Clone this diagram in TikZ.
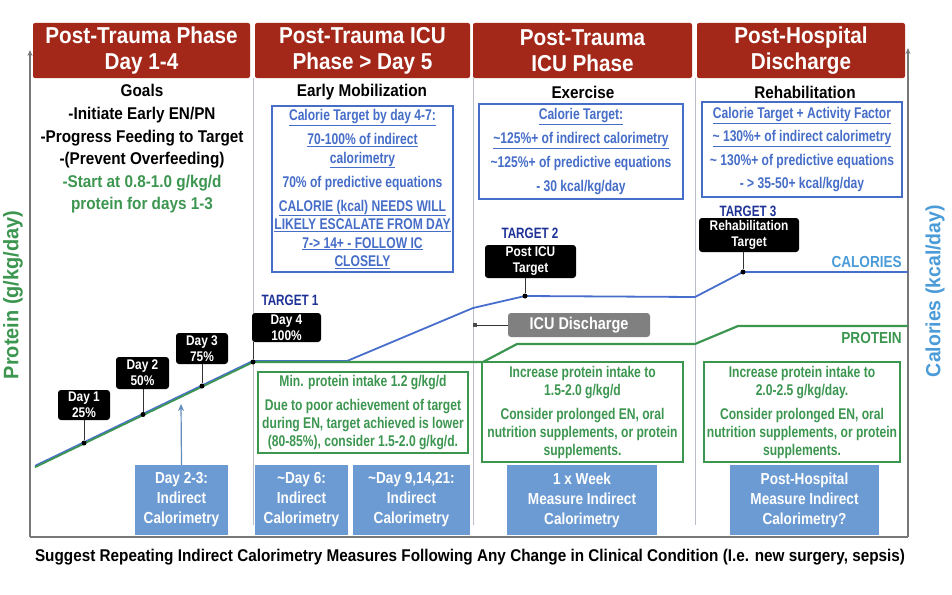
\documentclass[tikz,border=0pt]{standalone}
\usepackage{fontspec}
\setmainfont{Liberation Sans}
\newfontfamily\fh{Liberation Sans}[FakeStretch=0.85]
\newfontfamily\fhw{Liberation Sans}[FakeStretch=0.9]
\newfontfamily\fhx{Liberation Sans}[FakeStretch=0.95]
\newfontfamily\fn{Liberation Sans}[FakeStretch=0.78]
\usetikzlibrary{arrows.meta}
\definecolor{hdred}{RGB}{163,40,26}
\definecolor{txblue}{RGB}{70,110,200}
\definecolor{lnblue}{RGB}{72,110,205}
\definecolor{tgblue}{RGB}{30,50,150}
\definecolor{ltblue}{RGB}{74,155,215}
\definecolor{pgreen}{RGB}{60,150,80}
\definecolor{fillblue}{RGB}{107,155,210}
\definecolor{sepgray}{RGB}{185,190,200}
\definecolor{axgray}{RGB}{120,120,120}
\definecolor{icugray}{RGB}{128,128,128}
\begin{document}
\begin{tikzpicture}[x=1pt,y=-1pt,
  hdr/.style={fill=hdred, text=white, font=\fhw\bfseries\fontsize{23}{26}\selectfont, align=center, rounded corners=2pt, minimum height=55, inner sep=0},
  sub/.style={font=\fhw\bfseries\fontsize{17}{22.6}\selectfont, align=center, inner sep=0},
  bbox/.style={draw=txblue, fill=white, line width=1.2pt, text=txblue, font=\fn\bfseries\fontsize{15.5}{18.5}\selectfont, align=center, inner sep=0},
  gbox/.style={draw=pgreen, fill=white, line width=1.2pt, text=pgreen, font=\fn\bfseries\fontsize{15.5}{18}\selectfont, align=center, inner sep=0},
  mbox/.style={fill=fillblue, text=white, font=\fh\bfseries\fontsize{16}{20}\selectfont, align=center, inner sep=0, minimum height=70},
  tag/.style={fill=black, rounded corners=3pt, text=white, font=\fh\bfseries\fontsize{14}{16}\selectfont, align=center, inner sep=0},
  dot/.style={circle, fill=black, inner sep=0, minimum size=5},
  conn/.style={draw=black!80, line width=0.8pt},
  tgt/.style={text=tgblue, font=\fn\bfseries\fontsize{15}{16}\selectfont, inner sep=0},
  axis/.style={draw=axgray, line width=1.5pt},
  sep/.style={draw=sepgray, line width=1pt},
  cal/.style={draw=lnblue, line width=1.8pt},
  pro/.style={draw=pgreen, line width=2.2pt}]
\useasboundingbox (0,0) rectangle (952,594);

% separators
\coordinate (s1t) at (253,78); \coordinate (s1b) at (253,525);
\coordinate (s2t) at (473,78); \coordinate (s2b) at (473,525);
\coordinate (s3t) at (695,78); \coordinate (s3b) at (695,525);
\draw[sep] (s1t) -- (s1b);
\draw[sep] (s2t) -- (s2b);
\draw[sep] (s3t) -- (s3b);

% axes
\coordinate (ab1) at (30,537); \coordinate (at1) at (30,50);
\coordinate (ab2) at (908,537); \coordinate (at2) at (908,48);
\draw[axis] (ab1) -- (ab2);
\draw[axis,-{Stealth[length=6pt,width=5pt]}] (ab1) -- (at1);
\draw[axis,-{Stealth[length=6pt,width=5pt]}] (ab2) -- (at2);

% headers
\node[hdr, minimum width=217] (h1) at (141.5,50.5) {Post-Trauma Phase\\Day 1-4};
\node[hdr, minimum width=215] (h2) at (362.5,50.5) {Post-Trauma ICU\\Phase > Day 5};
\node[hdr, minimum width=219] (h3) at (582.5,50.5) {Post-Trauma\\ICU Phase};
\node[hdr, minimum width=208] (h4) at (801,50.5) {Post-Hospital\\Discharge};

% column sub-headings
\node[sub] (goals) at (142,149) {Goals\\-Initiate Early EN/PN\\-Progress Feeding to Target\\-(Prevent Overfeeding)\\\textcolor{pgreen}{-Start at 0.8-1.0 g/kg/d}\\\textcolor{pgreen}{protein for days 1-3}};
\node[sub] (sub2) at (362,92) {Early Mobilization};
\node[sub] (sub3) at (583,92) {Exercise};
\node[sub] (sub4) at (805,92) {Rehabilitation};

% calorie boxes
\node[bbox, minimum width=181, minimum height=166] (b2) at (362.5,189) {\underline{Calorie Target by day 4-7:}\\[5.5pt]\underline{70-100\% of indirect}\\\underline{calorimetry}\\[5.5pt]70\% of predictive equations\\[5.5pt]\underline{CALORIE (kcal) NEEDS WILL}\\\underline{LIKELY ESCALATE FROM DAY}\\\underline{7-> 14+ - FOLLOW IC}\\\underline{CLOSELY}};
\node[bbox, minimum width=204, minimum height=95] (b3) at (581,151.5) {\underline{Calorie Target:}\\[5.2pt]\underline{\textasciitilde125\%+ of indirect calorimetry}\\[5.2pt]\textasciitilde125\%+ of predictive equations\\[5.2pt]- 30 kcal/kg/day};
\node[bbox, minimum width=200, minimum height=95] (b4) at (802,149.5) {\underline{Calorie Target + Activity Factor}\\[4.8pt]\underline{\textasciitilde{} 130\%+ of indirect calorimetry}\\[4.8pt]\textasciitilde{} 130\%+ of predictive equations\\[4.8pt]- > 35-50+ kcal/kg/day};

% lines
\coordinate (c1) at (253,361); \coordinate (c2) at (347,361);
\coordinate (c3) at (473,308); \coordinate (c4) at (525,296); \coordinate (c5) at (695,297);
\coordinate (c6) at (743,272); \coordinate (c7) at (908,272);
\coordinate (p0) at (35,467); \coordinate (p1) at (253,362); \coordinate (p2) at (483,362);
\coordinate (p3) at (517,344); \coordinate (p4) at (695,344); \coordinate (p5) at (738,326);
\coordinate (p6) at (908,326);
\draw[cal] (c1) -- (c2) -- (c3) -- (c4) -- (c5) -- (c6) -- (c7);
\draw[pro] (p0) -- (p1) -- (p2) -- (p3) -- (p4) -- (p5) -- (p6);
\coordinate (c0b) at (35,465.5); \coordinate (c1b) at (253,360.5);
\draw[draw=lnblue, line width=1.1pt] (c0b) -- (c1b);

\node[anchor=east, text=ltblue, font=\fh\bfseries\fontsize{16}{18}\selectfont, inner sep=0] (lcal) at (902,262) {CALORIES};
\node[anchor=east, text=pgreen, font=\fh\bfseries\fontsize{16}{18}\selectfont, inner sep=0] (lpro) at (902,338) {PROTEIN};

% day tags
\node[dot] (d1) at (84,443) {};
\node[dot] (d2) at (143,414.5) {};
\node[dot] (d3) at (202,386) {};
\node[dot] (d4) at (253,362) {};
\node[dot] (dT2) at (525,296) {};
\node[dot] (dT3) at (743,272) {};
\node[tag, minimum width=52, minimum height=30] (t1) at (84,405) {Day 1\\25\%};
\node[tag, minimum width=53, minimum height=32] (t2) at (142.5,373) {Day 2\\50\%};
\node[tag, minimum width=52, minimum height=31] (t3) at (202,348.5) {Day 3\\75\%};
\node[tag, minimum width=69, minimum height=29] (t4) at (286.5,327.5) {Day 4\\100\%};
\node[tag, minimum width=91, minimum height=33] (tT2) at (530.5,261.5) {Post ICU\\Target};
\node[tag, minimum width=100, minimum height=34] (tT3) at (749,235) {Rehabilitation\\Target};
\draw[conn] (t1.south -| d1) -- (d1);
\draw[conn] (t2.south -| d2) -- (d2);
\draw[conn] (t3.south -| d3) -- (d3);
\draw[conn] (t4.south -| d4) -- (d4);
\draw[conn] (tT2.south -| dT2) -- (dT2);
\draw[conn] (tT3.south -| dT3) -- (dT3);
\node[tgt] (lt1) at (290,300) {TARGET 1};
\node[tgt] (lt2) at (530,233) {TARGET 2};
\node[tgt] (lt3) at (748,211) {TARGET 3};

% ICU discharge
\node[fill=icugray, rounded corners=3pt, text=white, font=\fh\bfseries\fontsize{17}{18}\selectfont, minimum width=142, minimum height=24, inner sep=0] (icu) at (579,325) {ICU Discharge};
\node[fill=black!70, minimum size=4, inner sep=0] (icud) at (475,325) {};
\draw[conn] (icu) -- (icud);

% protein boxes
\node[gbox, minimum width=210, minimum height=81] (g2) at (363,412.5) {Min. protein intake 1.2 g/kg/d\\[6pt]Due to poor achievement of target\\during EN, target achieved is lower\\(80-85\%), consider 1.5-2.0 g/kg/d.};
\node[gbox, minimum width=201, minimum height=100] (g3) at (582.5,412) {Increase protein intake to\\1.5-2.0 g/kg/d\\[6pt]Consider prolonged EN, oral\\nutrition supplements, or protein\\supplements.};
\node[gbox, minimum width=196, minimum height=100] (g4) at (802,412) {Increase protein intake to\\2.0-2.5 g/kg/day.\\[6pt]Consider prolonged EN, oral\\nutrition supplements, or protein\\supplements.};

% indirect calorimetry boxes
\node[mbox, minimum width=93] (mA) at (181.5,500) {Day 2-3:\\Indirect\\Calorimetry};
\node[mbox, minimum width=93] (mB) at (301.5,500) {\textasciitilde Day 6:\\Indirect\\Calorimetry};
\node[mbox, minimum width=117] (mC) at (411.5,500) {\textasciitilde Day 9,14,21:\\Indirect\\Calorimetry};
\node[mbox, minimum width=150] (mD) at (582,500) {1 x Week\\Measure Indirect\\Calorimetry};
\node[mbox, minimum width=149] (mE) at (804.5,500) {Post-Hospital\\Measure Indirect\\Calorimetry?};
\coordinate (atip) at (181,404);
\draw[draw=fillblue!90!black, line width=1.2pt, -{Stealth[length=7pt,width=6pt]}] (mA.north) -- (atip);

% axis titles
\node[rotate=90, text=pgreen, font=\fhx\bfseries\fontsize{21}{22}\selectfont, inner sep=0] (ylp) at (13,295) {Protein (g/kg/day)};
\node[rotate=90, text=ltblue, font=\fhx\bfseries\fontsize{20.5}{22}\selectfont, inner sep=0] (ylc) at (935,291) {Calories (kcal/day)};

% caption
\node[font=\fhw\bfseries\fontsize{17}{18}\selectfont, inner sep=0] (cap) at (470,557) {Suggest Repeating Indirect Calorimetry Measures Following Any Change in Clinical Condition (I.e. new surgery, sepsis)};
\end{tikzpicture}
\end{document}
